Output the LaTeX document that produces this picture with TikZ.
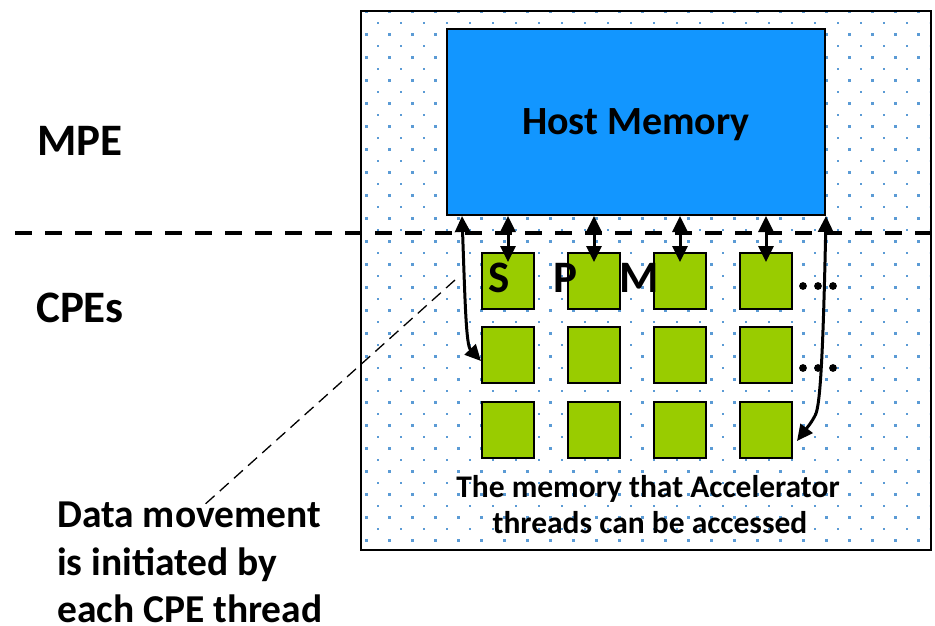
\documentclass[tikz,border=0pt]{standalone}
\usepackage{fontspec}
\setmainfont{Carlito}
\usetikzlibrary{arrows.meta}
\definecolor{hostblue}{RGB}{18,150,255}
\definecolor{cpegreen}{RGB}{153,204,0}
\definecolor{dotblue}{RGB}{91,155,213}
\begin{document}
\begin{tikzpicture}[x=1pt,y=-1pt,
  bigtxt/.style={font=\bfseries\fontsize{45}{52}\selectfont, inner sep=0pt, anchor=base west},
  midtxt/.style={font=\bfseries\fontsize{40}{46}\selectfont, inner sep=0pt, anchor=base},
  lefttxt/.style={font=\bfseries\fontsize{39.5}{46}\selectfont, inner sep=0pt, anchor=base west},
  bottxt/.style={font=\bfseries\fontsize{31.5}{36}\selectfont, inner sep=0pt, anchor=base},
  cpe/.style={draw=black, line width=2pt, fill=cpegreen, minimum width=52pt, minimum height=56pt, inner sep=0pt, anchor=north west},
  dblarrow/.style={line width=3pt, {Triangle[length=16pt,width=15pt]}-{Triangle[length=16pt,width=15pt]}},
  leader/.style={line width=1.3pt, dash pattern=on 12pt off 7pt},
  sepline/.style={line width=4.5pt, dash pattern=on 16.5pt off 13.5pt},
  ell/.style={fill=black}
]
\useasboundingbox (0,0) rectangle (935,626);
\fill[white] (0,0) rectangle (935,626);

% dotted pattern
\begin{scope}
  \clip (361,11) rectangle (929,548);
  \foreach \k in {0,...,46}{
    \pgfmathsetmacro{\yy}{11.7+11.5*\k}
    \pgfmathsetmacro{\xo}{366.7+11.5*mod(\k,2)}
    \foreach \m in {0,...,24}{
      \fill[dotblue] (\xo+23*\m-1.25,\yy-1.25) rectangle ++(2.5,2.5);
    }
  }
\end{scope}

% outer box
\node[draw=black, line width=2pt, minimum width=570pt, minimum height=539pt, inner sep=0pt, anchor=north west] (outer) at (360,10) {};

% host memory
\node[draw=black, line width=2pt, fill=hostblue, minimum width=378pt, minimum height=186pt, inner sep=0pt] (host) at (636,122) {};
\node[midtxt] (hosttxt) at (636,135) {Host Memory};

% CPE squares
\foreach \c/\x in {1/481,2/567,3/653,4/739}{
  \foreach \r/\y in {1/252,2/326,3/401}{
    \node[cpe] (s\r\c) at (\x,\y) {};
  }
}

% labels
\node[bigtxt] (mpe) at (37,155) {MPE};
\node[bigtxt] (cpes) at (36,322) {CPEs};
\node[bigtxt] (lS) at (488,292) {S};
\node[bigtxt] (lP) at (553,292) {P};
\node[bigtxt] (lM) at (619,292) {M};

% ellipses
\foreach \yy in {286,368}{
  \foreach \xx in {803,818,833}{
    \fill[ell] (\xx,\yy) circle (3.9);
  }
}

% bottom text
\node[bottxt] (bt1) at (648,497) {The memory that Accelerator};
\node[bottxt] (bt2) at (650,533) {threads can be accessed};

% left text
\node[lefttxt] (dm1) at (57,527) {Data movement};
\node[lefttxt] (dm2) at (57,575) {is initiated by};
\node[lefttxt] (dm3) at (57,622) {each CPE thread};

% separator
\coordinate (sepL) at (15,233);
\coordinate (sepR) at (935,233);
\draw[sepline] (sepL) -- (sepR);

% leader line
\coordinate (leadtop) at (455,280);
\coordinate (leadbot) at (202,507);
\draw[leader] (leadtop) -- (leadbot);

% vertical double arrows
\foreach \c in {1,2,3,4}{
  \draw[dblarrow] (s1\c.north |- host.south) -- ([yshift=-10pt]s1\c.north);
}

% curved arrows
\draw[dblarrow] ([xshift=16pt]host.south west) .. controls (465,300) and (466,345) .. ([yshift=-6pt]s21.west);
\draw[dblarrow, rounded corners=6pt] (host.south east) .. controls (823,360) and (820,405) .. (813,420) -- ([xshift=4pt,yshift=-11pt]s34.east);
\end{tikzpicture}
\end{document}
